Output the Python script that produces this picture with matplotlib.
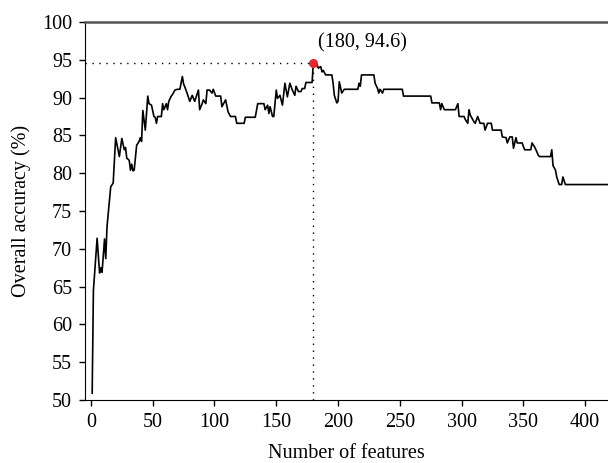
import matplotlib.pyplot as plt

plt.rcParams['font.family'] = ['Liberation Serif', 'DejaVu Serif']

# number of features vs overall accuracy
n_features = [1, 2, 5, 7, 8, 9, 11, 12, 13, 16, 18, 20, 23, 25, 27, 28, 29, 31, 32, 33,
              34, 35, 37, 39, 40, 41, 42, 43, 44, 46, 47, 49, 51, 52, 53, 54, 57, 58, 59, 61,
              62, 63, 65, 66, 68, 70, 72, 74, 75, 76, 78, 80, 82, 84, 87, 88, 90, 91, 93, 94,
              96, 98, 99, 101, 105, 106, 109, 111, 113, 117, 118, 124, 125, 133, 135, 140, 141, 143, 144, 145,
              147, 148, 150, 151, 153, 155, 157, 158, 159, 161, 163, 165, 166, 168, 170, 171, 173, 174, 179, 180,
              182, 183, 184, 186, 187, 188, 190, 195, 196, 197, 199, 200, 201, 203, 205, 216, 217, 218, 219, 229,
              230, 232, 233, 234, 236, 237, 252, 253, 275, 276, 282, 283, 284, 286, 295, 297, 298, 302, 303, 305,
              306, 307, 310, 311, 313, 315, 318, 319, 321, 324, 325, 332, 333, 336, 337, 339, 341, 342, 344, 345,
              349, 351, 356, 357, 359, 361, 362, 363, 372, 373, 374, 376, 377, 379, 381, 382, 384, 420]
accuracy = [50.9, 64.5, 71.4, 66.8, 67.5, 66.9, 71.3, 68.7, 72.9, 78.2, 78.7, 84.7, 82.2, 84.6, 83.1, 83.4, 82.0, 81.7, 80.4, 81.2,
            80.3, 80.4, 83.7, 84.2, 84.7, 84.2, 88.3, 87.0, 85.7, 90.2, 89.2, 89.0, 87.5, 87.4, 86.6, 87.5, 87.5, 89.2, 88.4, 89.2,
            88.4, 89.5, 90.2, 90.4, 91.0, 91.1, 91.1, 92.8, 91.8, 91.4, 90.5, 89.5, 90.3, 89.5, 91.0, 88.4, 89.2, 89.7, 89.2, 91.0,
            91.0, 90.6, 91.1, 90.2, 90.2, 88.8, 89.7, 88.1, 87.5, 87.5, 86.6, 86.6, 87.4, 87.4, 89.2, 89.2, 88.4, 89.0, 87.9, 88.8,
            87.5, 87.5, 91.0, 89.9, 90.3, 89.0, 91.9, 91.0, 90.1, 91.9, 91.0, 90.3, 91.5, 90.8, 90.8, 91.2, 91.2, 92.0, 92.0, 94.6,
            94.1, 94.4, 93.9, 94.1, 93.4, 93.6, 93.0, 93.0, 91.9, 90.3, 89.3, 89.5, 92.1, 90.6, 91.1, 91.1, 91.9, 91.5, 93.0, 93.0,
            91.9, 91.2, 90.6, 91.1, 90.6, 91.1, 91.1, 90.2, 90.2, 89.3, 89.3, 88.4, 89.2, 88.4, 88.4, 89.2, 87.5, 87.5, 87.1, 86.6,
            88.4, 87.7, 86.8, 86.6, 87.5, 86.6, 86.6, 85.7, 86.6, 86.6, 85.7, 85.7, 84.8, 84.7, 84.0, 84.8, 84.8, 83.3, 84.7, 84.0,
            84.0, 83.1, 83.1, 84.0, 83.5, 82.8, 82.4, 82.2, 82.2, 83.1, 81.0, 80.4, 79.5, 78.5, 78.5, 79.5, 78.5, 78.5]

best_n = 180
best_acc = 94.6

fig = plt.figure(figsize=(6.08, 4.63), dpi=100)
ax = fig.add_axes([0.139, 0.136, 0.861, 0.8165])

xmin, xmax = -5.2, 418.5
ax.plot(n_features, accuracy, color='black', lw=1.2, zorder=3)

# dotted guides to the best point
ax.plot([xmin, best_n], [best_acc, best_acc], color='black', lw=1.0, ls=(0, (1, 4)), zorder=2)
ax.plot([best_n, best_n], [50, best_acc], color='black', lw=1.0, ls=(0, (1, 4)), zorder=2)
ax.plot(best_n, best_acc, 'o', color='#e8262b', ms=5.5, zorder=4)
ax.text(best_n + 4, 97.3, '(%d, %.1f)' % (best_n, best_acc), fontsize=14.5, ha='left', va='center')

ax.set_xlim(xmin, xmax)
ax.set_ylim(50, 100)
ax.set_xticks(range(0, 401, 50))
ax.set_yticks(range(50, 101, 5))
ax.tick_params(direction='out', length=4, width=1, labelsize=14.5, pad=5)

ax.spines['right'].set_visible(False)
ax.spines['top'].set_color('#555555')
ax.spines['top'].set_linewidth(1.8)

ax.set_xlabel('Number of features', fontsize=14.5, labelpad=9)
ax.set_ylabel('Overall accuracy (%)', fontsize=14.5, labelpad=8)

fig.savefig('out.png', dpi=100)
